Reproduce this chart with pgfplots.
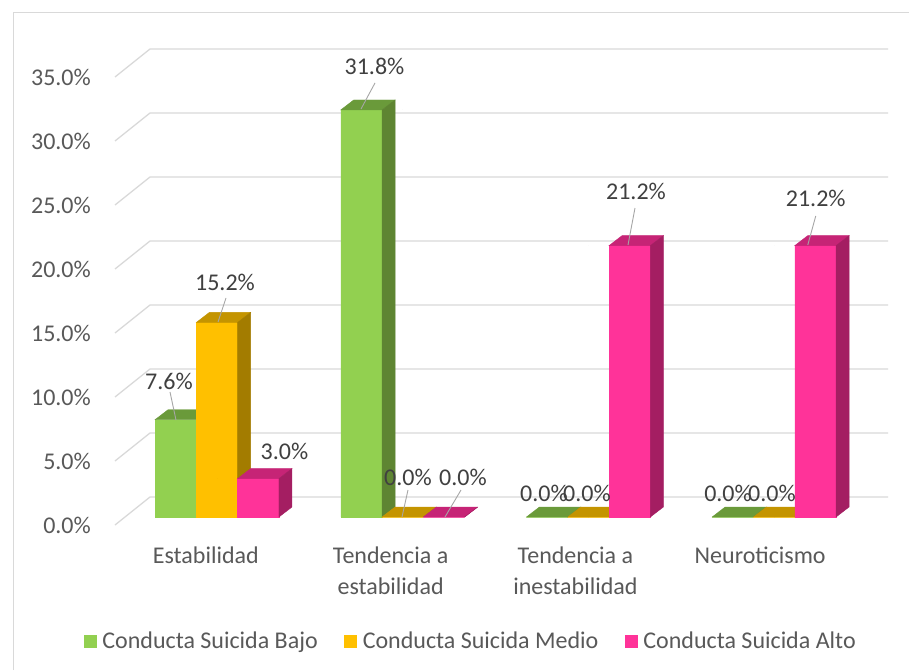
\documentclass[border=0pt]{standalone}
\usepackage{pgfplots}
\pgfplotsset{compat=1.18}
\usepackage{pgfplotstable}
\usepackage{fontspec}
\setmainfont{Carlito}
\definecolor{cg}{HTML}{92D050}
\definecolor{cgt}{HTML}{6A9A3A}
\definecolor{cgs}{HTML}{5E8532}
\definecolor{cy}{HTML}{FFC000}
\definecolor{cyt}{HTML}{C49400}
\definecolor{cys}{HTML}{A37C00}
\definecolor{cp}{HTML}{FF3399}
\definecolor{cpt}{HTML}{C62476}
\definecolor{cps}{HTML}{A41E62}
\definecolor{gridc}{HTML}{D9D9D9}
\definecolor{txt}{HTML}{595959}
\definecolor{lbl}{HTML}{404040}
\definecolor{lead}{HTML}{A6A6A6}

\pgfplotstableread{
x bajo medio alto
0 7.6 15.2 3.0
1 31.8 0.0 0.0
2 0.0 0.0 21.2
3 0.0 0.0 21.2
}\datatable

\pgfplotsset{
  front/.style={forget plot, ybar, bar width=41.3pt, bar shift=#1, draw=none},
  cuboid/.style n args={4}{forget plot, only marks, scatter, mark=*, mark size=0pt,
    visualization depends on={rawy \as \barval},
    scatter/@pre marker code/.code={%
      \pgfmathsetmacro\hh{12.8*\barval}%
      \fill[#2] ({#1-20.65pt},{-\hh pt}) rectangle ({#1+20.65pt},0pt);
      \fill[#3] ({#1-20.65pt},0pt) -- ({#1+20.65pt},0pt) -- ({#1+33.65pt},10pt) -- ({#1-7.65pt},10pt) -- cycle;
      \fill[#4] ({#1+20.65pt},0pt) -- ({#1+33.65pt},10pt) -- ({#1+33.65pt},{10pt-\hh pt}) -- ({#1+20.65pt},{-\hh pt}) -- cycle;
    },
    scatter/@post marker code/.code={}},
  gl/.style={forget plot, gridc, line width=1.3pt, mark=none},
  ld/.style={forget plot, lead, line width=0.9pt, mark=none},
}

\begin{document}
\fontsize{24}{31}\selectfont
\begin{tikzpicture}[x=1pt,y=1pt]
\useasboundingbox (0,0) rectangle (909,670);
\fill[white] (0,0) rectangle (909,670);
\draw[gridc, line width=1.3pt] (13.5,0) -- (13.5,657.5) -- (909,657.5);
\begin{axis}[
  at={(95pt,123pt)}, anchor=south west,
  x=185.7pt, y=12.8pt,
  xmin=-0.657, xmax=3.7, ymin=-2.344, ymax=38,
  clip=false, clip marker paths=true,
  axis line style={draw=none}, major tick length=0pt,
  xtick={-0.06,0.935,1.93,2.925},
  xticklabels={Estabilidad, {Tendencia a\\estabilidad}, {Tendencia a\\inestabilidad}, Neuroticismo},
  xticklabel style={align=center, anchor=north, inner sep=0pt, text=txt},
  ytick={-0.625,4.375,9.375,14.375,19.375,24.375,29.375,34.375},
  yticklabels={0.0\%,5.0\%,10.0\%,15.0\%,20.0\%,25.0\%,30.0\%,35.0\%},
  yticklabel style={anchor=east, inner sep=0pt, xshift=-4pt, text=txt},
  legend columns=3,
  legend style={at={(0.4648,-0.183)}, anchor=center, draw=none, fill=none, text=txt,
     column sep=0pt,
     /tikz/every odd column/.append style={column sep=3pt},
     /tikz/every even column/.append style={column sep=24pt},
     nodes={inner sep=2.5pt}},
  legend image code/.code={\fill[#1] (0pt,-6.5pt) rectangle (13pt,6.5pt);},
]
% back wall gridlines
\addplot[gl] coordinates {(-0.5493,-0.625) (-0.3608,1.5625) (3.6134,1.5625)};
\addplot[gl] coordinates {(-0.5493,4.375) (-0.3608,6.5625) (3.6134,6.5625)};
\addplot[gl] coordinates {(-0.5493,9.375) (-0.3608,11.5625) (3.6134,11.5625)};
\addplot[gl] coordinates {(-0.5493,14.375) (-0.3608,16.5625) (3.6134,16.5625)};
\addplot[gl] coordinates {(-0.5493,19.375) (-0.3608,21.5625) (3.6134,21.5625)};
\addplot[gl] coordinates {(-0.5493,24.375) (-0.3608,26.5625) (3.6134,26.5625)};
\addplot[gl] coordinates {(-0.5493,29.375) (-0.3608,31.5625) (3.6134,31.5625)};
\addplot[gl] coordinates {(-0.5493,34.375) (-0.3608,36.5625) (3.6134,36.5625)};

% bars
\addplot[front=-41.3pt, fill=cg] table[x=x,y=bajo]{\datatable};
\addplot[cuboid={-41.3pt}{cg}{cgt}{cgs}] table[x=x,y=bajo]{\datatable};
\addplot[front=0pt, fill=cy] table[x=x,y=medio]{\datatable};
\addplot[cuboid={0pt}{cy}{cyt}{cys}] table[x=x,y=medio]{\datatable};
\addplot[front=41.3pt, fill=cp] table[x=x,y=alto]{\datatable};
\addplot[cuboid={41.3pt}{cp}{cpt}{cps}] table[x=x,y=alto]{\datatable};

% leader lines
\addplot[ld] coordinates {(-0.2531,9.766) (-0.2208,7.578)};
\addplot[ld] coordinates {(0.0485,17.11) (0.0054,15.23)};
\addplot[ld] coordinates {(0.8508,33.91) (0.7754,31.875)};
\addplot[ld] coordinates {(1.0285,2.109) (0.9962,0)};
\addplot[ld] coordinates {(1.3139,2.109) (1.2278,0)};
\addplot[ld] coordinates {(2.2509,24.14) (2.2132,21.25)};
\addplot[ld] coordinates {(3.2243,23.52) (3.1812,21.25)};

% data labels
\node[text=lbl, inner sep=0pt] at (axis cs:-0.2585,10.625) {7.6\%};
\node[text=lbl, inner sep=0pt] at (axis cs:0.0431,18.36) {15.2\%};
\node[text=lbl, inner sep=0pt] at (axis cs:0.3635,5.156) {3.0\%};
\node[text=lbl, inner sep=0pt] at (axis cs:0.8481,35.23) {31.8\%};
\node[text=lbl, inner sep=0pt] at (axis cs:1.0285,3.125) {0.0\%};
\node[text=lbl, inner sep=0pt] at (axis cs:1.3247,3.125) {0.0\%};
\node[text=lbl, inner sep=0pt] at (axis cs:1.7609,1.875) {0.0\%};
\node[text=lbl, inner sep=0pt] at (axis cs:1.9925,1.875) {0.0\%};
\node[text=lbl, inner sep=0pt] at (axis cs:2.2563,25.47) {21.2\%};
\node[text=lbl, inner sep=0pt] at (axis cs:2.7518,1.875) {0.0\%};
\node[text=lbl, inner sep=0pt] at (axis cs:2.9887,1.875) {0.0\%};
\node[text=lbl, inner sep=0pt] at (axis cs:3.2243,24.92) {21.2\%};

\addlegendimage{fill=cg, draw=none}
\addlegendentry{Conducta Suicida Bajo}
\addlegendimage{fill=cy, draw=none}
\addlegendentry{Conducta Suicida Medio}
\addlegendimage{fill=cp, draw=none}
\addlegendentry{Conducta Suicida Alto}
\end{axis}
\end{tikzpicture}
\end{document}
